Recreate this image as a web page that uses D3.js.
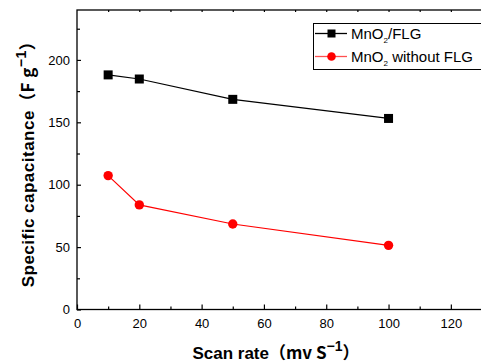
<!DOCTYPE html>
<html><head><meta charset="utf-8">
<script src="https://cdn.jsdelivr.net/npm/d3@7"></script>
<style>body{margin:0;background:#fff}svg{display:block}</style>
</head><body>
<svg id="c" width="481" height="363"></svg>
<script>
const scanRates = [10, 20, 50, 100];
const withFLG = [188, 184.7, 168.4, 153.1];
const withoutFLG = [107.3, 83.8, 68.5, 51.4];
const seriesNames = ["MnO2/FLG", "MnO2 without FLG"];
const xTicks = [0, 20, 40, 60, 80, 100, 120];
const yTicks = [0, 50, 100, 150, 200];

const svg = d3.select("#c");
const m = {l: 77, t: 10, r: 482, b: 309.5};
const x = d3.scaleLinear().domain([0, 130]).range([m.l, m.r]);
const y = d3.scaleLinear().domain([0, 240]).range([m.b, m.t]);
const font = "'Liberation Sans', Arial, sans-serif";

// frame
svg.append("rect").attr("x", m.l).attr("y", m.t).attr("width", m.r - m.l).attr("height", m.b - m.t)
  .attr("fill", "none").attr("stroke", "#000").attr("stroke-width", 1.3);

// bottom axis
const xa = svg.append("g").attr("transform", `translate(0,${m.b})`)
  .call(d3.axisBottom(x).tickValues(xTicks).tickSize(-5).tickPadding(9).tickFormat(d3.format("d")));
const xm = svg.append("g").attr("transform", `translate(0,${m.b})`)
  .call(d3.axisBottom(x).tickValues(d3.range(10, 130, 20)).tickSize(-3).tickFormat(""));
// top axis mirror
const xt = svg.append("g").attr("transform", `translate(0,${m.t})`)
  .call(d3.axisTop(x).tickValues(d3.range(10, 130, 10)).tickSize(-2).tickFormat(""));
// left axis
const ya = svg.append("g").attr("transform", `translate(${m.l},0)`)
  .call(d3.axisLeft(y).tickValues(yTicks).tickSize(-4).tickPadding(7).tickFormat(d3.format("d")));
const ym = svg.append("g").attr("transform", `translate(${m.l},0)`)
  .call(d3.axisLeft(y).tickValues(d3.range(25, 240, 50)).tickSize(-3).tickFormat(""));
[xa, xm, xt, ya, ym].forEach(g => {
  g.select(".domain").remove();
  g.selectAll("line").attr("stroke", "#000").attr("stroke-width", 1.2);
  g.selectAll("text").attr("font-family", font).attr("font-size", 13).attr("fill", "#000");
});

// series
const line = d3.line().x(d => x(d[0])).y(d => y(d[1]));
const s1 = scanRates.map((v, i) => [v, withFLG[i]]);
const s2 = scanRates.map((v, i) => [v, withoutFLG[i]]);
svg.append("path").attr("d", line(s1)).attr("fill", "none").attr("stroke", "#000").attr("stroke-width", 1.2);
svg.append("path").attr("d", line(s2)).attr("fill", "none").attr("stroke", "#f00").attr("stroke-width", 1.2);
svg.selectAll(".sq").data(s1).enter().append("rect")
  .attr("x", d => x(d[0]) - 4.5).attr("y", d => y(d[1]) - 4.5).attr("width", 9).attr("height", 9).attr("fill", "#000");
svg.selectAll(".ci").data(s2).enter().append("circle")
  .attr("cx", d => x(d[0])).attr("cy", d => y(d[1])).attr("r", 4.7).attr("fill", "#f00");

// legend
const lg = svg.append("g");
lg.append("rect").attr("x", 313.5).attr("y", 23.5).attr("width", 175).attr("height", 46)
  .attr("fill", "#fff").attr("stroke", "#000").attr("stroke-width", 1);
const rows = [{yy: 33.5, c: "#000", sub: "/FLG", shape: "sq"}, {yy: 56.5, c: "#ff5050", sub: " without FLG", shape: "ci"}];
rows.forEach((r, i) => {
  lg.append("line").attr("x1", 315).attr("x2", 347).attr("y1", r.yy).attr("y2", r.yy).attr("stroke", r.c).attr("stroke-width", 1.3);
  if (r.shape === "sq") lg.append("rect").attr("x", 327.5).attr("y", r.yy - 4).attr("width", 8).attr("height", 8).attr("fill", "#000");
  else lg.append("circle").attr("cx", 331.5).attr("cy", r.yy).attr("r", 4.3).attr("fill", "#f00");
  const t = lg.append("text").attr("x", 351).attr("y", r.yy + 5.5).attr("font-family", font).attr("font-size", 15).attr("fill", "#000");
  t.append("tspan").text("MnO");
  t.append("tspan").text("2").attr("font-size", 8).attr("dy", 4);
  t.append("tspan").text(r.sub).attr("dy", -4);
});

// axis titles
const cjk = "'Noto Sans CJK JP', " + font;
const xt2 = svg.append("text").attr("x", 276).attr("y", 359).attr("text-anchor", "middle")
  .attr("font-family", font).attr("font-weight", "bold").attr("font-size", 17).attr("fill", "#000");
xt2.append("tspan").text("Scan rate");
xt2.append("tspan").text("（mv S").attr("font-family", cjk);
xt2.append("tspan").text("−1").attr("font-size", 14).attr("dy", -8);
xt2.append("tspan").text("）").attr("dy", 8).attr("font-family", cjk);

const yt = svg.append("text").attr("transform", "translate(34,160) rotate(-90)").attr("text-anchor", "middle")
  .attr("font-family", font).attr("font-weight", "bold").attr("font-size", 17).attr("letter-spacing", 0.5).attr("fill", "#000");
yt.append("tspan").text("Specific capacitance");
yt.append("tspan").text("（F g").attr("font-family", cjk);
yt.append("tspan").text("−1").attr("font-size", 14).attr("dy", -8);
yt.append("tspan").text("）").attr("dy", 8).attr("font-family", cjk);
</script>
</body></html>
